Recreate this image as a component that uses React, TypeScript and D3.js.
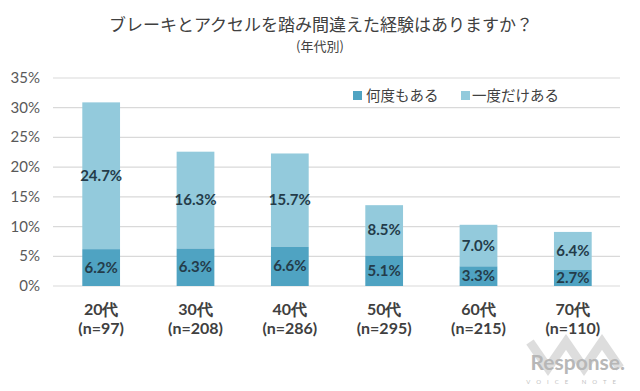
import React from "react";
import * as d3 from "d3";

const categories = ["20代", "30代", "40代", "50代", "60代", "70代"];
const sampleSizes = ["(n=97)", "(n=208)", "(n=286)", "(n=295)", "(n=215)", "(n=110)"];
const manyTimes = [6.2, 6.3, 6.6, 5.1, 3.3, 2.7];
const onceOnly = [24.7, 16.3, 15.7, 8.5, 7.0, 6.4];
const seriesNames = ["何度もある", "一度だけある"];
const yTicks = [0, 5, 10, 15, 20, 25, 30, 35];

const W = 640;
const H = 391;
const colors = ["#4fa3c2", "#93cadc"];
const jp = "'Noto Sans CJK JP', 'Noto Sans', sans-serif";
const num = "Lato, 'Open Sans', sans-serif";

export default function App() {
  const x = d3.scaleBand().domain(categories).range([54, 620]).paddingInner(0.6).paddingOuter(0.3);
  const y = d3.scaleLinear().domain([0, 35]).range([286, 78]);
  const bw = x.bandwidth();

  return (
    <svg width={W} height={H} style={{ position: "absolute", left: 0, top: 0, background: "#fff" }}>
      <text x={321} y={31} textAnchor="middle" fontFamily={jp} fontSize={17} fill="#404040">
        ブレーキとアクセルを踏み間違えた経験はありますか？
      </text>
      <text x={320} y={51} textAnchor="middle" fontFamily={jp} fontSize={13} fill="#404040">
        (年代別)
      </text>
      {yTicks.map((t) => (
        <g key={t}>
          <line x1={53} x2={620} y1={y(t)} y2={y(t)} stroke="#d9d9d9" strokeWidth={1.2} />
          <text x={40} y={y(t) + 5} textAnchor="end" fontFamily={num} fontSize={15} fill="#595959">
            {t}%
          </text>
        </g>
      ))}
      {categories.map((c, i) => {
        const x0 = x(c)!;
        const a = manyTimes[i];
        const b = onceOnly[i];
        return (
          <g key={c}>
            <rect x={x0} width={bw} y={y(a + b)} height={y(a) - y(a + b)} fill={colors[1]} />
            <rect x={x0} width={bw} y={y(a)} height={y(0) - y(a)} fill={colors[0]} />
            <text x={x0 + bw / 2} y={y(a / 2) + 5} textAnchor="middle" fontFamily={num} fontWeight="bold" fontSize={15} fill="#243c4a">
              {a.toFixed(1)}%
            </text>
            <text x={x0 + bw / 2} y={y(a + b / 2) + 5} textAnchor="middle" fontFamily={num} fontWeight="bold" fontSize={15} fill="#243c4a">
              {b.toFixed(1)}%
            </text>
            <text x={x0 + bw / 2} y={315} textAnchor="middle" fontFamily={num} fontWeight="bold" fontSize={16} fill="#404040">
              {c}
            </text>
            <text x={x0 + bw / 2} y={334} textAnchor="middle" fontFamily={num} fontWeight="bold" fontSize={16} fill="#404040">
              {sampleSizes[i]}
            </text>
          </g>
        );
      })}
      <g>
        <rect x={353} y={91} width={9} height={9} fill={colors[0]} />
        <text x={366} y={101} fontFamily={jp} fontSize={14.5} fill="#404040">{seriesNames[0]}</text>
        <rect x={461} y={91} width={9} height={9} fill={colors[1]} />
        <text x={472} y={101} fontFamily={jp} fontSize={14.5} fill="#404040">{seriesNames[1]}</text>
      </g>
      <g opacity={0.6}>
        <path d="M530,342 L548,368 L566,342 L584,368 L602,342 L620,368" fill="none" stroke="#c8c8c8" strokeWidth={9} />
        <text x={625} y={370} textAnchor="end" fontFamily={num} fontSize={21} fill="#888" fontWeight="bold">Response.</text>
        <text x={622} y={384} textAnchor="end" fontFamily={num} fontSize={6} fill="#999" letterSpacing={6}>VOICE NOTE</text>
      </g>
    </svg>
  );
}
